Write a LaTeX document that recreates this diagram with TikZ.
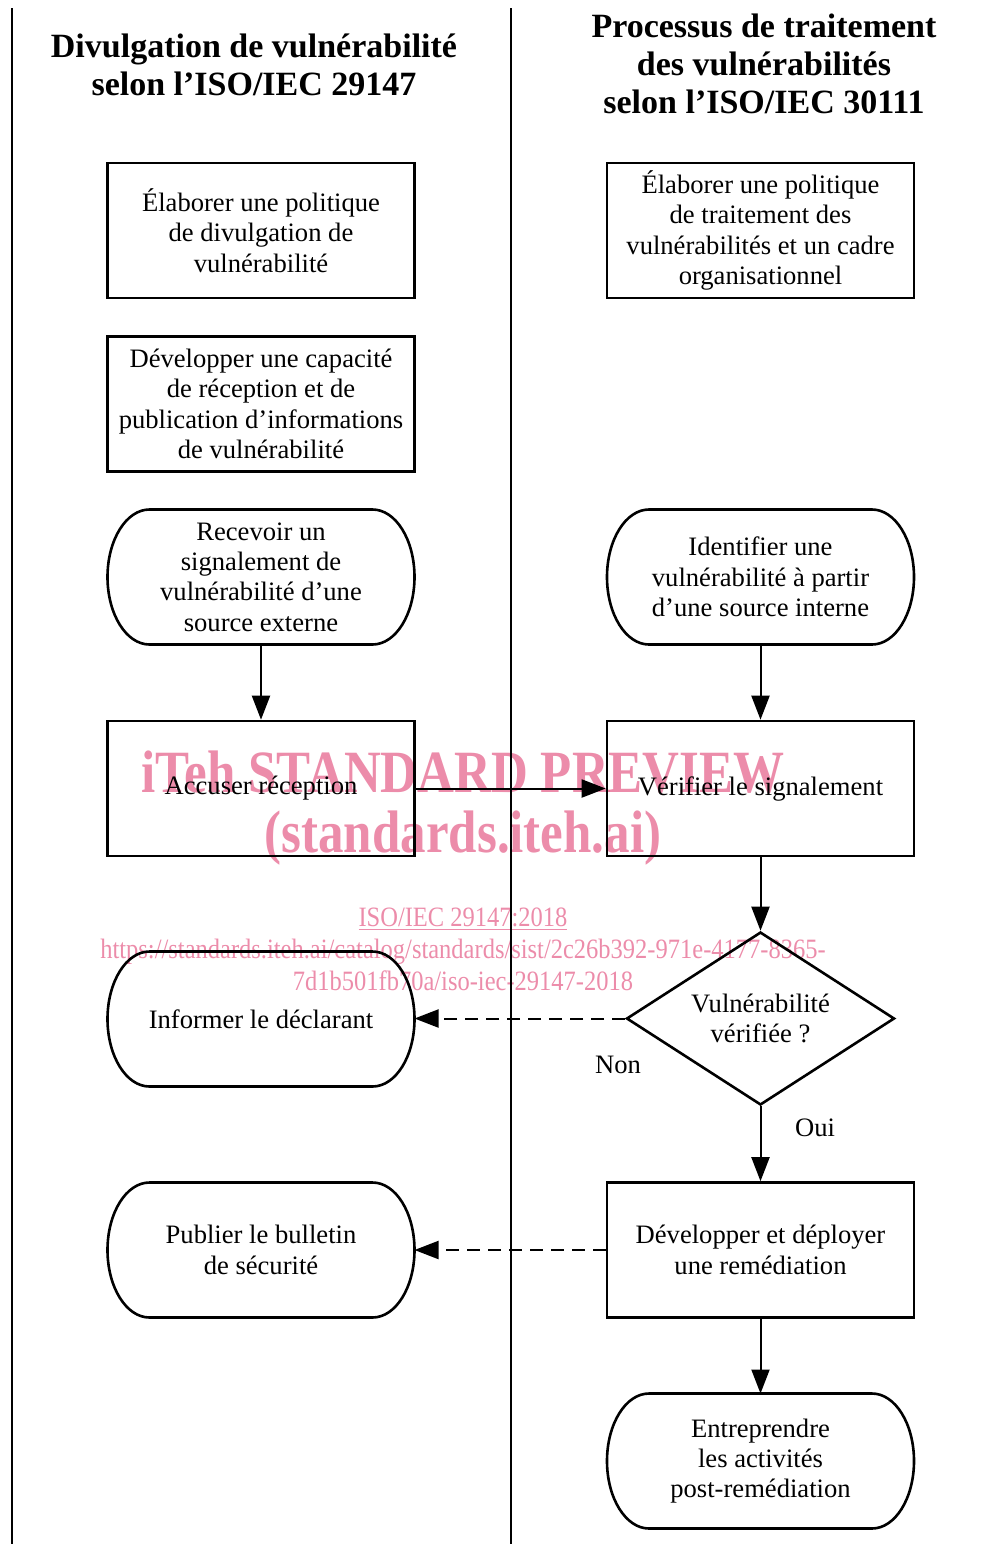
\documentclass[tikz,border=0pt]{standalone}
\usepackage{fontspec}
\setmainfont{Liberation Serif}
\newfontfamily\wmfont[FakeStretch=0.85]{Liberation Serif}
\newfontfamily\wmurlfont[FakeStretch=0.875]{Liberation Serif}
\usetikzlibrary{arrows.meta,positioning,calc,shapes.geometric}
\definecolor{wmpink}{RGB}{236,140,170}

\begin{document}
\begin{tikzpicture}[
    x=0.5pt, y=-0.5pt,
    lane/.style={line width=1.3pt},
    head/.style={font=\fontsize{17}{19}\selectfont\bfseries, align=center},
    proc/.style={draw, line width=1.3pt, minimum width=153.5pt,
                 minimum height=67.5pt, align=center, inner sep=2pt,
                 font=\fontsize{13.3}{15.2}\selectfont},
    term/.style={proc, draw=none, outer sep=0pt},
    decision/.style={draw, diamond, aspect=1.55, line width=1.3pt,
                     minimum width=134pt, minimum height=86.5pt,
                     inner sep=0pt, align=center,
                     font=\fontsize{13.3}{15.2}\selectfont},
    lbl/.style={font=\fontsize{13.3}{15.2}\selectfont},
    flow/.style={line width=1pt, -{Triangle[length=12pt,width=9pt]}},
    dflow/.style={flow, dash pattern=on 6.5pt off 4pt},
    wm/.style={text=wmpink, align=center},
]
\useasboundingbox (0,0) rectangle (1002,1544);

% === Lane separators ===
\draw[lane] (12,8) -- (12,1544);
\draw[lane] (511,8) -- (511,1544);

% === Lane headings ===
\node[head] (headL) at (254,65) {Divulgation de vulnérabilité\\selon l’ISO/IEC 29147};
\node[head] (headR) at (764,64) {Processus de traitement\\des vulnérabilités\\selon l’ISO/IEC 30111};

% === Left lane (ISO/IEC 29147) ===
\node[proc] (policyL)  at (261,230.5) {Élaborer une politique\\de divulgation de\\vulnérabilité};
\node[proc] (captureL) at (261,404)   {Développer une capacité\\de réception et de\\publication d’informations\\de vulnérabilité};
\node[term] (receiveL) at (261,577)   {Recevoir un\\signalement de\\vulnérabilité d’une\\source externe};
\node[proc] (ackL)     at (261,788.5) {Accuser réception};
\node[term] (informL)  at (261,1019)  {Informer le déclarant};
\node[term] (publishL) at (261,1250)  {Publier le bulletin\\de sécurité};

% === Right lane (ISO/IEC 30111) ===
\node[proc] (policyR) at (760.5,230.5) {Élaborer une politique\\de traitement des\\vulnérabilités et un cadre\\organisationnel};
\node[term] (identR)  at (760.5,577)   {Identifier une\\vulnérabilité à partir\\d’une source interne};
\node[proc] (checkR)  at (760.5,788.5) {Vérifier le signalement};
\node[decision] (dec) at (760.5,1018.5) {Vulnérabilité\\vérifiée ?};
\node[proc] (remedR)  at (760.5,1250)  {Développer et déployer\\une remédiation};
\node[term] (postR)   at (760.5,1461)  {Entreprendre\\les activités\\post-remédiation};

% === Terminal outlines ===
\foreach \n in {receiveL,informL,publishL,identR,postR}
  \draw[line width=1.3pt] ($(\n.north west)+(21pt,0)$)
    arc[start angle=90, end angle=270, x radius=21pt, y radius=33.75pt]
    -- ($(\n.south east)+(-21pt,0)$)
    arc[start angle=-90, end angle=90, x radius=21pt, y radius=33.75pt]
    -- cycle;

% === Connectors ===
\draw[flow] (receiveL.south) -- (ackL.north);
\draw[flow] (identR.south) -- (checkR.north);
\draw[flow] (ackL.east) -- (checkR.west);
\draw[flow] (checkR.south) -- (dec.north);
\draw[dflow] (dec.west) -- (dec.west -| informL.east);
\draw[flow] (dec.south) -- (remedR.north);
\draw[dflow] (remedR.west) -- (remedR.west -| publishL.east);
\draw[flow] (remedR.south) -- (postR.north);

% === Branch labels ===
\node[lbl] (no)  at (618,1065) {Non};
\node[lbl] (yes) at (815,1128) {Oui};

% === Watermark ===
\begin{scope}[blend mode=multiply]
\node[wm, font=\wmfont\fontsize{30}{30}\selectfont\bfseries] (wmA) at (463,808)
  {iTeh STANDARD PREVIEW\\(standards.iteh.ai)};
\node[wm, font=\wmurlfont\fontsize{14}{16}\selectfont] (wmB) at (463,949)
  {\underline{ISO/IEC 29147:2018}\\https://standards.iteh.ai/catalog/standards/sist/2c26b392-971e-4177-8365-\\7d1b501fb70a/iso-iec-29147-2018};
\end{scope}

\end{tikzpicture}
\end{document}
